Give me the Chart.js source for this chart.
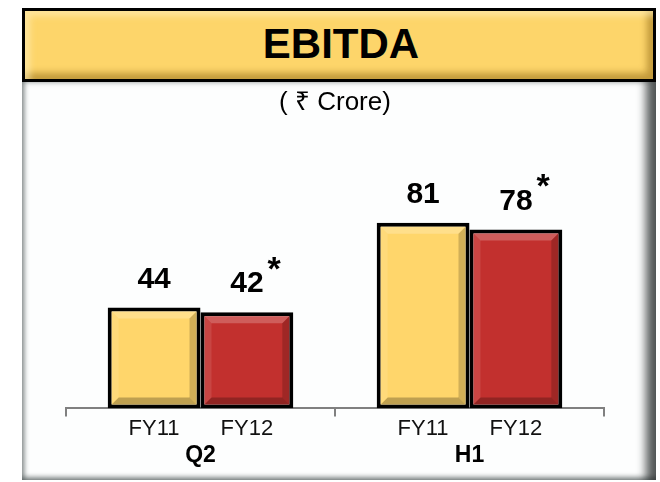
<!DOCTYPE html>
<html>
<head>
<meta charset="utf-8">
<script src="https://cdn.jsdelivr.net/npm/chart.js@4"></script>
<style>
    body { margin: 0; background: #ffffff; width: 660px; height: 482px; overflow: hidden; }
    #frame { position: absolute; left: 22px; top: 8px; width: 634px; height: 472px; }
    #header {
        position: absolute; left: 0; top: 0; width: 634px; height: 74px; box-sizing: border-box;
        border: 3px solid #000; background: #fdd56a;
        box-shadow: inset 5px 5px 6px rgba(255, 240, 190, 0.6), inset -6px -6px 7px rgba(120, 80, 0, 0.45);
        font: bold 42px "Liberation Sans", Arial, sans-serif; color: #000;
        text-align: center; line-height: 66px; padding-left: 4px;
    }
    #panel {
        position: absolute; left: 0; top: 74px; width: 634px; height: 398px;
        background: #fdfefe;
        box-shadow: inset 4px 0 4px -1px rgba(60, 70, 70, 0.5), inset -14px 0 10px -4px rgba(30, 35, 35, 0.75), inset 0 -5px 5px -2px rgba(60, 70, 70, 0.5);
    }
    #chart { position: absolute; left: 0; top: 0; }
</style>
</head>
<body>
<div id="frame">
    <div id="header">EBITDA</div>
    <div id="panel"><canvas id="chart" width="634" height="398"></canvas></div>
</div>
<script>
const categories = ['Q2', 'H1'];
const seriesNames = ['FY11', 'FY12'];
const fy11 = [44, 81];
const fy12 = [42, 78];
const seriesNotes = ['', '*'];
const unitText = '( ₹ Crore)';

const FONT = '"Liberation Sans", Arial, sans-serif';

// bevelled look of the bars
const bevelPlugin = {
    id: 'bevel',
    afterDatasetsDraw(chart) {
        const ctx = chart.ctx;
        chart.data.datasets.forEach((ds, i) => {
            chart.getDatasetMeta(i).data.forEach(bar => {
                const l = bar.x - bar.width / 2 + 4, r = bar.x + bar.width / 2 - 4;
                const t = bar.y + 4, b = bar.base - 4, w = 7;
                ctx.save();
                const side = (pts, color) => {
                    ctx.beginPath();
                    ctx.moveTo(pts[0][0], pts[0][1]);
                    pts.slice(1).forEach(p => ctx.lineTo(p[0], p[1]));
                    ctx.closePath();
                    ctx.fillStyle = color;
                    ctx.fill();
                };
                side([[l, t], [r, t], [r - w, t + w], [l + w, t + w]], 'rgba(255,255,255,0.22)');
                side([[l, t], [l + w, t + w], [l + w, b - w], [l, b]], 'rgba(255,255,255,0.10)');
                side([[r, t], [r, b], [r - w, b - w], [r - w, t + w]], 'rgba(0,0,0,0.18)');
                side([[l, b], [r, b], [r - w, b - w], [l + w, b - w]], 'rgba(0,0,0,0.25)');
                ctx.restore();
            });
        });
    }
};

// value labels above bars and series names under bars
const labelPlugin = {
    id: 'barLabels',
    afterDatasetsDraw(chart) {
        const ctx = chart.ctx;
        chart.data.datasets.forEach((ds, i) => {
            chart.getDatasetMeta(i).data.forEach((bar, j) => {
                ctx.save();
                ctx.fillStyle = '#000';
                ctx.textAlign = 'center';
                ctx.textBaseline = 'middle';
                ctx.font = 'bold 30px ' + FONT;
                const txt = String(ds.data[j]);
                const ty = bar.y - 28;
                ctx.fillText(txt, bar.x, ty);
                if (seriesNotes[i]) {
                    const tw = ctx.measureText(txt).width;
                    ctx.textAlign = 'left';
                    ctx.font = 'bold 34px ' + FONT;
                    ctx.fillText(seriesNotes[i], bar.x + tw / 2 + 4, ty - 14);
                }
                ctx.textAlign = 'center';
                ctx.font = '22px ' + FONT;
                ctx.fillStyle = '#111';
                ctx.fillText(ds.label, bar.x, bar.base + 21);
                ctx.restore();
            });
        });
    }
};

new Chart(document.getElementById('chart'), {
    type: 'bar',
    data: {
        labels: categories,
        datasets: [{
            label: seriesNames[0],
            data: fy11,
            backgroundColor: '#ffd66b',
            borderColor: '#000',
            borderWidth: 4,
            borderSkipped: false,
            categoryPercentage: 0.69,
            barPercentage: 1.0
        }, {
            label: seriesNames[1],
            data: fy12,
            backgroundColor: '#c2302e',
            borderColor: '#000',
            borderWidth: 4,
            borderSkipped: false,
            categoryPercentage: 0.69,
            barPercentage: 1.0
        }]
    },
    options: {
        responsive: false,
        animation: false,
        layout: { padding: { left: 44, right: 52, top: 0, bottom: -14 } },
        plugins: {
            legend: { display: false },
            tooltip: { enabled: false },
            title: {
                display: true,
                text: unitText,
                color: '#000',
                font: { family: FONT, size: 26, weight: 'normal' },
                padding: { top: 5, bottom: 61 }
            }
        },
        scales: {
            y: { display: false, min: 0, max: 100 },
            x: {
                border: { display: true, color: '#808080', width: 2 },
                grid: { display: true, drawOnChartArea: false, drawTicks: true, tickLength: 8, color: '#808080', lineWidth: 2 },
                ticks: { color: '#000', padding: 25, font: { family: FONT, size: 23, weight: 'bold' } }
            }
        }
    },
    plugins: [bevelPlugin, labelPlugin]
});
</script>
</body>
</html>
